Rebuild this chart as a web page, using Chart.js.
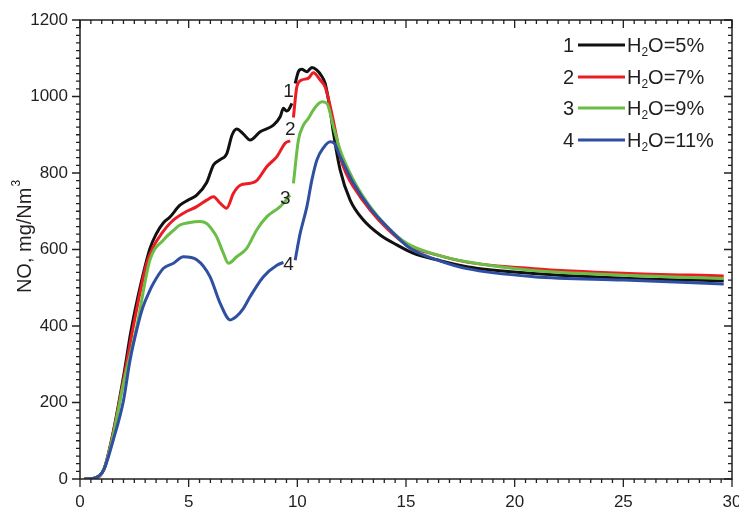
<!DOCTYPE html>
<html>
<head>
<meta charset="utf-8">
<script src="https://cdn.jsdelivr.net/npm/chart.js@4/dist/chart.umd.min.js"></script>
<style>
  body { margin: 0; background: #fff; }
  canvas { display: block; }
</style>
</head>
<body>
<canvas id="canvas" width="739" height="507" style="width:739px;height:507px"></canvas>
<script>
//****DATA****//

// time, min (x) and NO, mg/Nm3 (y); null = gap where the curve number sits
var time5 = [0.2, 0.7, 1.1, 1.5, 2.0, 2.35, 2.8, 3.22, 3.5, 3.84, 4.14, 4.6, 5.0, 5.37, 5.83, 6.14, 6.45, 6.75, 7.0, 7.21, 7.5, 7.83, 8.29, 8.9, 9.21, 9.36, 9.5, 9.6, 9.75, 9.82, 9.9, 10.05, 10.2, 10.44, 10.67, 10.9, 11.1, 11.28, 11.51, 11.66, 11.97, 12.43, 13.04, 13.81, 14.58, 15.35, 16.42, 17.8, 20.87, 25, 29.62];
var no5 = [0, 3, 25, 115, 267, 388, 510, 603, 640, 670, 685, 716, 730, 742, 775, 821, 835, 850, 900, 915, 903, 886, 908, 925, 947, 969, 962, 965, 982, null, 1034, 1065, 1071, 1065, 1076, 1069, 1055, 1034, 965, 905, 808, 729, 677, 638, 612, 590, 573, 555, 537, 525, 518];

var time7 = [0.2, 0.7, 1.1, 1.5, 2.0, 2.45, 3.07, 3.4, 3.76, 4.2, 4.76, 5.37, 5.83, 6.14, 6.45, 6.75, 7.06, 7.37, 7.83, 8.13, 8.6, 9.06, 9.44, 9.67, 9.75, 9.82, 9.98, 10.2, 10.51, 10.74, 11.05, 11.28, 11.51, 11.82, 11.97, 12.28, 12.58, 13.35, 14.12, 15.04, 16.42, 17.8, 20.87, 25, 29.62];
var no7 = [0, 3, 25, 112, 258, 398, 564, 610, 642, 672, 695, 712, 729, 738, 721, 708, 747, 768, 773, 780, 817, 843, 878, 884, null, 945, 1026, 1043, 1048, 1062, 1043, 1025, 975, 890, 843, 795, 764, 703, 655, 612, 586, 567, 550, 538, 531];

var time9 = [0.2, 0.7, 1.1, 1.5, 2.0, 2.61, 3.22, 3.84, 4.3, 4.6, 5.0, 5.52, 5.83, 6.1, 6.29, 6.6, 6.83, 7.21, 7.67, 8.13, 8.6, 9.21, 9.67, 9.75, 9.82, 10.05, 10.28, 10.51, 10.74, 10.95, 11.13, 11.36, 11.66, 11.97, 12.58, 13.35, 14.12, 15.04, 16.42, 17.8, 20.87, 25, 29.62];
var no9 = [0, 3, 25, 108, 250, 398, 573, 625, 650, 664, 670, 673, 668, 650, 633, 590, 564, 581, 603, 651, 686, 712, 742, null, 773, 886, 925, 943, 965, 980, 986, 982, 921, 860, 782, 712, 660, 616, 586, 568, 545, 533, 524];

var time11 = [0.2, 0.7, 1.1, 1.53, 2.0, 2.3, 2.61, 2.9, 3.22, 3.38, 3.84, 4.3, 4.76, 5.37, 5.98, 6.45, 6.91, 7.2, 7.52, 7.83, 8.44, 9.06, 9.36, 9.6, 9.9, 10.13, 10.44, 10.67, 10.9, 11.2, 11.51, 11.7, 11.97, 12.58, 13.35, 14.12, 15.19, 16.42, 17.8, 20.87, 25, 29.62];
var no11 = [0, 3, 25, 102, 205, 310, 390, 450, 494, 512, 551, 564, 581, 573, 529, 459, 416, 425, 446, 477, 529, 559, 566, null, 572, 642, 712, 782, 834, 866, 882, 878, 843, 773, 708, 660, 603, 573, 550, 529, 520, 510];

var seriesNumbers = ['1', '2', '3', '4'];
var seriesWater = ['5%', '7%', '9%', '11%'];
var seriesColors = ['#111111', '#ec1c24', '#6abd45', '#2f4fa2'];

// where the curve numbers sit, in data units
var tagX = [9.59, 9.67, 9.45, 9.59];
var tagY = [1013, 912, 732, 559];

var xMin = 0, xMax = 30, xStep = 5, xMinor = 0.5;
var yMin = 0, yMax = 1200, yStep = 200, yMinor = 20;

//****HELPERS****//

var ink = '#231f20';
var fontFamily = '"Liberation Sans", Arial, sans-serif';

function toPoints(xs, ys) {
  var pts = [];
  for (var i = 0; i < xs.length; i++) {
    pts.push({ x: xs[i], y: ys[i] });
  }
  return pts;
}

function makeDataset(i, xs, ys) {
  return {
    label: seriesNumbers[i],
    data: toPoints(xs, ys),
    borderColor: seriesColors[i],
    borderWidth: 3,
    pointRadius: 0,
    fill: false,
    spanGaps: false,
    cubicInterpolationMode: 'monotone',
    order: 3 - i
  };
}

function plainLabel(value) {
  return String(value);
}

// frame, inner/outer ticks, curve numbers, legend and y title
var decorPlugin = {
  id: 'decor',
  afterDatasetsDraw: function(chart) {
    var ctx = chart.ctx;
    var xs = chart.scales.x;
    var ys = chart.scales.y;
    ctx.save();
    ctx.fillStyle = ink;
    ctx.font = '19px ' + fontFamily;
    ctx.textAlign = 'center';
    ctx.textBaseline = 'middle';
    for (var i = 0; i < tagX.length; i++) {
      var px = xs.getPixelForValue(tagX[i]);
      var py = ys.getPixelForValue(tagY[i]);
      ctx.fillText(seriesNumbers[i], px, py);
    }
    ctx.restore();
  },
  afterDraw: function(chart) {
    var ctx = chart.ctx;
    var area = chart.chartArea;
    var xs = chart.scales.x;
    var ys = chart.scales.y;
    ctx.save();
    ctx.strokeStyle = ink;
    ctx.lineWidth = 1.5;
    ctx.strokeRect(area.left, area.top, area.right - area.left, area.bottom - area.top);

    ctx.lineWidth = 1.3;
    ctx.beginPath();
    var n = Math.round((xMax - xMin) / xMinor);
    for (var i = 0; i <= n; i++) {
      var v = xMin + i * xMinor;
      var len = (Math.abs(v % xStep) < 1e-6) ? 8 : 4;
      var px = xs.getPixelForValue(v);
      ctx.moveTo(px, area.bottom);
      ctx.lineTo(px, area.bottom + len);
      ctx.moveTo(px, area.top);
      ctx.lineTo(px, area.top + len);
    }
    var m = Math.round((yMax - yMin) / yMinor);
    for (var j = 0; j <= m; j++) {
      var w = yMin + j * yMinor;
      var l2 = (Math.abs(w % yStep) < 1e-6) ? 8 : 4;
      var py = ys.getPixelForValue(w);
      ctx.moveTo(area.left, py);
      ctx.lineTo(area.left - l2, py);
      ctx.moveTo(area.right, py);
      ctx.lineTo(area.right - l2, py);
    }
    ctx.stroke();

    // legend
    var rowY = [45, 77, 108, 140];
    ctx.textBaseline = 'alphabetic';
    for (var k = 0; k < chart.data.datasets.length; k++) {
      var y = rowY[k];
      ctx.fillStyle = ink;
      ctx.font = '20px ' + fontFamily;
      ctx.textAlign = 'right';
      ctx.fillText(seriesNumbers[k], 574, y + 7);
      ctx.strokeStyle = chart.data.datasets[k].borderColor;
      ctx.lineWidth = 3;
      ctx.beginPath();
      ctx.moveTo(578, y);
      ctx.lineTo(625, y);
      ctx.stroke();
      ctx.textAlign = 'left';
      var x0 = 627;
      ctx.fillText('H', x0, y + 7);
      x0 += ctx.measureText('H').width;
      ctx.font = '12px ' + fontFamily;
      ctx.fillText('2', x0, y + 11);
      x0 += ctx.measureText('2').width;
      ctx.font = '20px ' + fontFamily;
      ctx.fillText('O=' + seriesWater[k], x0, y + 7);
    }

    // y axis title with superscript
    ctx.translate(24, 237);
    ctx.rotate(-Math.PI / 2);
    ctx.font = '20px ' + fontFamily;
    var main = 'NO, mg/Nm';
    var wMain = ctx.measureText(main).width;
    ctx.font = '12px ' + fontFamily;
    var wSup = ctx.measureText('3').width;
    var start = -(wMain + wSup) / 2;
    ctx.font = '20px ' + fontFamily;
    ctx.textAlign = 'left';
    ctx.fillStyle = ink;
    ctx.fillText(main, start, 7);
    ctx.font = '12px ' + fontFamily;
    ctx.fillText('3', start + wMain + 1, -4);
    ctx.restore();
  }
};

//****CHART****//

var ctx = document.getElementById('canvas').getContext('2d');

var chart = new Chart(ctx, {
  type: 'line',
  data: {
    datasets: [
      makeDataset(0, time5, no5),
      makeDataset(1, time7, no7),
      makeDataset(2, time9, no9),
      makeDataset(3, time11, no11)
    ]
  },
  options: {
    responsive: false,
    animation: false,
    layout: { padding: { top: 20, right: 7, left: 0, bottom: 0 } },
    plugins: {
      legend: { display: false },
      tooltip: { enabled: false }
    },
    scales: {
      x: {
        type: 'linear',
        min: xMin,
        max: xMax,
        ticks: { stepSize: xStep, color: ink, font: { family: fontFamily, size: 17 }, padding: 13, maxRotation: 0, callback: plainLabel },
        grid: { display: false, drawTicks: false },
        border: { display: false },
        afterFit: function(scale) {
          scale.height = 28;
          scale.paddingLeft = 0;
          scale.paddingRight = 0;
        }
      },
      y: {
        type: 'linear',
        min: yMin,
        max: yMax,
        ticks: { stepSize: yStep, color: ink, font: { family: fontFamily, size: 17 }, padding: 12, callback: plainLabel },
        grid: { display: false, drawTicks: false },
        border: { display: false },
        afterFit: function(scale) {
          scale.width = 80;
          scale.paddingTop = 0;
          scale.paddingBottom = 0;
        }
      }
    }
  },
  plugins: [decorPlugin]
});
</script>
</body>
</html>
